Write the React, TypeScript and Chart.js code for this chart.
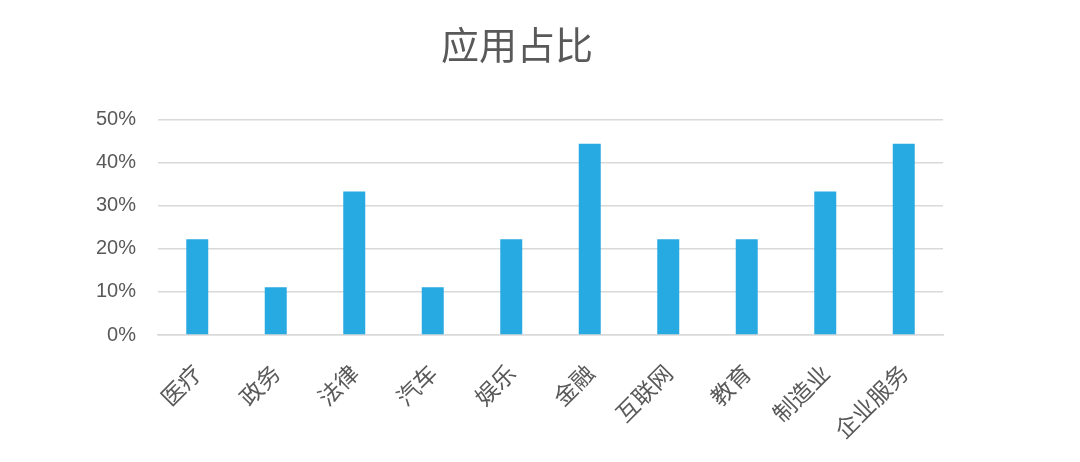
import { useEffect, useRef } from "react";
import { Chart, registerables } from "chart.js";

Chart.register(...registerables);

const categories = ["医疗", "政务", "法律", "汽车", "娱乐", "金融", "互联网", "教育", "制造业", "企业服务"];
const shares = [22.2, 11.1, 33.3, 11.1, 22.2, 44.4, 22.2, 22.2, 33.3, 44.4];
const yTicks = [0, 10, 20, 30, 40, 50];

const TEXT = "#595959";
const GRID = "#D9D9D9";

export default function App() {
  const chartRef = useRef<HTMLCanvasElement>(null);
  const chartInstance = useRef<Chart | null>(null);

  useEffect(() => {
    document.body.style.margin = "0";
    if (!chartRef.current) return;
    const ctx = chartRef.current.getContext("2d");
    if (!ctx) return;

    chartInstance.current = new Chart(ctx, {
      type: "bar",
      data: {
        labels: categories,
        datasets: [
          {
            label: "应用占比",
            data: shares,
            backgroundColor: "#27A9E1",
            borderWidth: 0,
            barPercentage: 0.28,
            categoryPercentage: 1,
          },
        ],
      },
      options: {
        animation: false,
        responsive: true,
        maintainAspectRatio: false,
        // right padding kept small so the title centres like the reference,
        // the rest of the right margin comes from the empty "spacer" axis
        layout: { padding: { top: 0, right: 46, bottom: 0, left: 0 } },
        plugins: {
          legend: { display: false },
          tooltip: { enabled: false },
          title: {
            display: true,
            text: "应用占比",
            color: TEXT,
            font: { family: "'Noto Sans CJK SC', sans-serif", size: 38, weight: "normal" },
            padding: { top: 22, bottom: 52 },
          },
        },
        scales: {
          x: {
            grid: { display: false, drawTicks: false },
            border: { color: GRID, width: 1.5 },
            ticks: {
              color: TEXT,
              font: { family: "'Noto Sans CJK SC', sans-serif", size: 23 },
              maxRotation: 45,
              minRotation: 45,
              padding: 24,
            },
            afterFit: (scale: any) => {
              scale.height = 127;
            },
          },
          y: {
            min: 0,
            max: 50,
            afterBuildTicks: (scale: any) => {
              scale.ticks = yTicks.map((v) => ({ value: v }));
            },
            grid: { color: GRID, lineWidth: 1.5, drawTicks: false },
            border: { display: false },
            ticks: {
              color: TEXT,
              font: { family: "'Liberation Sans', Arial, sans-serif", size: 20 },
              padding: 22,
              callback: (v: any) => v + "%",
            },
            afterFit: (scale: any) => {
              scale.width = 158;
            },
          },
          spacer: {
            type: "linear",
            position: "right",
            grid: { display: false, drawTicks: false },
            border: { display: false },
            ticks: { display: false },
            afterFit: (scale: any) => {
              scale.width = 91;
            },
          },
        },
      },
    });

    return () => {
      if (chartInstance.current) {
        chartInstance.current.destroy();
        chartInstance.current = null;
      }
    };
  }, []);

  return (
    <div style={{ width: 1080, height: 462, position: "relative", background: "#fff" }}>
      <canvas ref={chartRef}></canvas>
    </div>
  );
}
